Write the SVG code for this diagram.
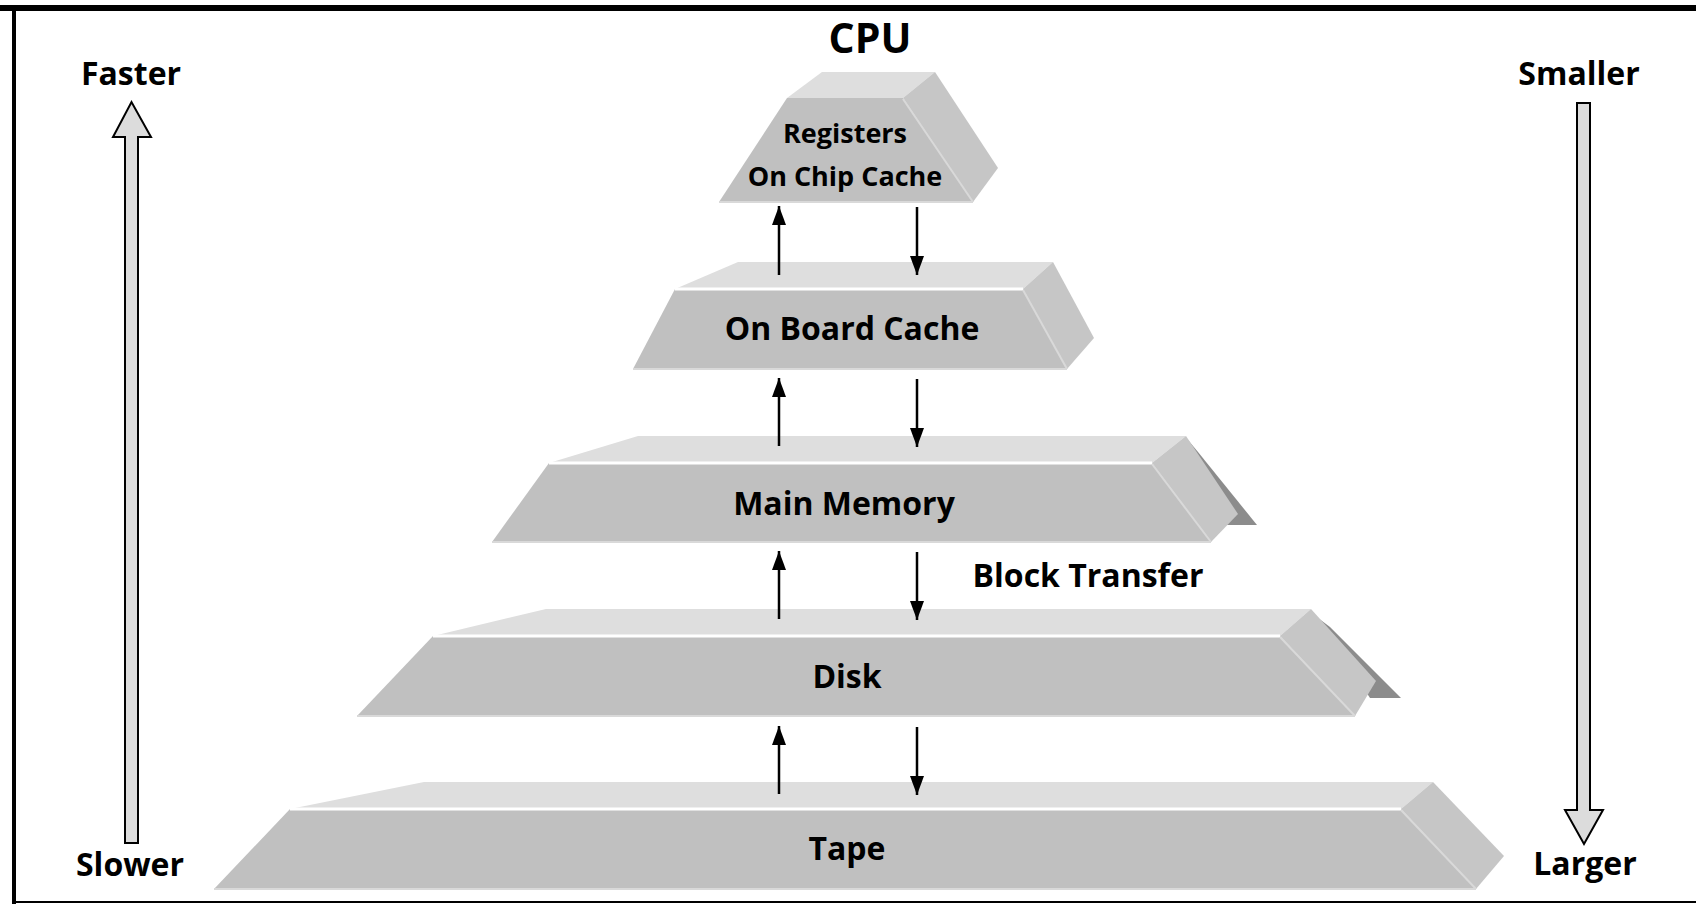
<svg xmlns="http://www.w3.org/2000/svg" width="1696" height="904" viewBox="0 0 1696 904">
  <style>
    .lbl { font-family: "Open Sans", "Noto Sans", "DejaVu Sans", sans-serif; font-weight: 700; fill: #000; text-anchor: middle; }
    .big { font-size: 32px; }
    .small { font-size: 27px; }
    .cpu { font-size: 41px; }
    .front { fill: #c0c0c0; }
    .top { fill: #dedede; }
    .side { fill: #c6c6c6; }
    .shadow { fill: #8c8c8c; }
    .hl { stroke: #ffffff; stroke-width: 3; fill: none; }
    .edge { stroke: #d9d9d9; stroke-width: 2; fill: none; }
    .conn { stroke: #000; stroke-width: 2.5; fill: none; marker-end: url(#ah); }
    .bigarrow { fill: #dcdcdc; stroke: #000; stroke-width: 2; stroke-linejoin: miter; }
  </style>
  <defs>
    <marker id="ah" markerUnits="userSpaceOnUse" markerWidth="19" markerHeight="14" viewBox="0 0 19 14" refX="19" refY="7" orient="auto">
      <path d="M0,0 L19,7 L0,14 z" fill="#000"/>
    </marker>
  </defs>

  <rect x="0" y="0" width="1696" height="904" fill="#ffffff"/>

  <!-- frame -->
  <g id="frame" stroke="#000" fill="none">
    <line x1="0" y1="8" x2="1696" y2="8" stroke-width="6"/>
    <line x1="14" y1="5" x2="14" y2="904" stroke-width="4"/>
    <line x1="12" y1="902" x2="1696" y2="902" stroke-width="2"/>
  </g>

  <!-- CPU label -->
  <g id="cpu-label">
    <text class="lbl cpu" x="870" y="53">CPU</text>
  </g>

  <!-- Registers / On Chip Cache -->
  <g id="node-registers">
    <polygon class="top" points="787,98 822,72 935,72 903,98"/>
    <polygon class="side" points="903,98 935,72 998,168 973,202"/>
    <polygon class="front" points="787,98 903,98 973,202 719,202"/>
    <line class="edge" x1="903" y1="99" x2="973" y2="202"/>
    <line class="edge" x1="719" y1="202" x2="973" y2="202"/>
    <text class="lbl small" x="845" y="143">Registers</text>
    <text class="lbl small" x="845" y="186">On Chip Cache</text>
  </g>

  <!-- On Board Cache -->
  <g id="node-onboard">
    <polygon class="top" points="675,289 738,262 1053,262 1023,289"/>
    <polygon class="side" points="1023,289 1053,262 1094,338 1067,369"/>
    <polygon class="front" points="675,289 1023,289 1067,369 633,369"/>
    <line class="hl" x1="675" y1="289" x2="1023" y2="289"/>
    <line class="edge" x1="1023" y1="290" x2="1067" y2="369"/>
    <line class="edge" x1="633" y1="369" x2="1067" y2="369"/>
    <text class="lbl big" x="852" y="340">On Board Cache</text>
  </g>

  <!-- Main Memory -->
  <g id="node-main">
    <polygon class="shadow" points="1188,440 1198,452 1257,525 1227,525"/>
    <polygon class="top" points="549,463 638,436 1186,436 1152,463"/>
    <polygon class="side" points="1152,463 1186,436 1238,514 1211,542"/>
    <polygon class="front" points="549,463 1152,463 1211,542 492,542"/>
    <line class="hl" x1="549" y1="463" x2="1152" y2="463"/>
    <line class="edge" x1="1152" y1="464" x2="1211" y2="542"/>
    <line class="edge" x1="492" y1="542" x2="1211" y2="542"/>
    <text class="lbl big" x="844" y="515">Main Memory</text>
  </g>

  <!-- Block Transfer label -->
  <g id="block-transfer">
    <text class="lbl big" x="1088" y="587">Block Transfer</text>
  </g>

  <!-- Disk -->
  <g id="node-disk">
    <polygon class="shadow" points="1318,618 1330,627 1401,698 1370,698"/>
    <polygon class="top" points="433,636 546,609 1311,609 1280,636"/>
    <polygon class="side" points="1280,636 1311,609 1376,681 1355,716"/>
    <polygon class="front" points="433,636 1280,636 1355,716 357,716"/>
    <line class="hl" x1="433" y1="636" x2="1280" y2="636"/>
    <line class="edge" x1="1280" y1="637" x2="1355" y2="716"/>
    <line class="edge" x1="357" y1="716" x2="1355" y2="716"/>
    <text class="lbl big" x="847" y="688">Disk</text>
  </g>

  <!-- Tape -->
  <g id="node-tape">
    <polygon class="top" points="290,809 424,782 1433,782 1401,809"/>
    <polygon class="side" points="1401,809 1433,782 1504,856 1476,889"/>
    <polygon class="front" points="290,809 1401,809 1476,889 214,889"/>
    <line class="hl" x1="290" y1="809" x2="1401" y2="809"/>
    <line class="edge" x1="1401" y1="810" x2="1476" y2="889"/>
    <line class="edge" x1="214" y1="889" x2="1476" y2="889"/>
    <text class="lbl big" x="847" y="860">Tape</text>
  </g>

  <!-- Faster / Slower arrow -->
  <g id="speed-arrow">
    <polygon class="bigarrow" points="125,843 125,137 113,137 131.5,102 151,137 138,137 138,843"/>
    <text class="lbl big" x="131" y="85">Faster</text>
    <text class="lbl big" x="130" y="876">Slower</text>
  </g>

  <!-- Smaller / Larger arrow -->
  <g id="size-arrow">
    <polygon class="bigarrow" points="1577,103 1590,103 1590,810 1603,810 1584,844 1565,810 1577,810"/>
    <text class="lbl big" x="1579" y="85">Smaller</text>
    <text class="lbl big" x="1585" y="875">Larger</text>
  </g>

  <!-- connectors -->
  <g id="connectors">
    <line class="conn" x1="779" y1="275" x2="779" y2="206"/>
    <line class="conn" x1="917" y1="207" x2="917" y2="275"/>
    <line class="conn" x1="779" y1="446" x2="779" y2="378"/>
    <line class="conn" x1="917" y1="379" x2="917" y2="447"/>
    <line class="conn" x1="779" y1="619" x2="779" y2="551"/>
    <line class="conn" x1="917" y1="552" x2="917" y2="620"/>
    <line class="conn" x1="779" y1="794" x2="779" y2="726"/>
    <line class="conn" x1="917" y1="727" x2="917" y2="795"/>
  </g>
</svg>
